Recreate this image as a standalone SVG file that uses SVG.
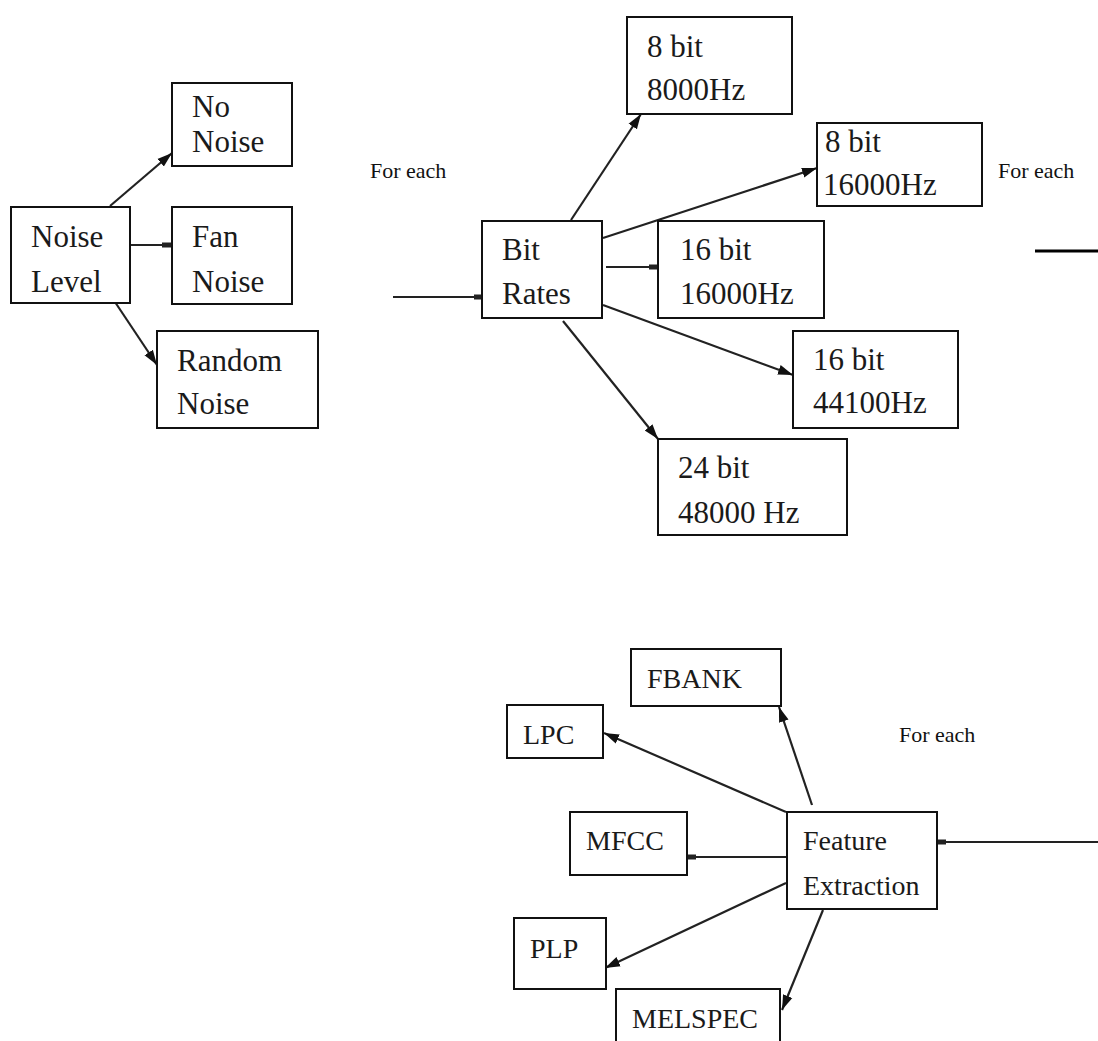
<svg xmlns="http://www.w3.org/2000/svg" width="1098" height="1041" viewBox="0 0 1098 1041">
<style>
.box{fill:#fff;stroke:#111;stroke-width:2}
text{font-family:'Liberation Serif','Times New Roman',Times,serif}
.t{font-size:31px;fill:#1a1a1a}
.tb{font-size:28px;fill:#1a1a1a}
.fe{font-size:22px;fill:#111}
.c{stroke:#222;stroke-width:2.2;fill:none}
.arr{marker-end:url(#ah)}
.sq{marker-end:url(#sq)}
</style>
<defs>
<marker id="ah" markerUnits="userSpaceOnUse" markerWidth="16" markerHeight="12" refX="15" refY="6" orient="auto"><path d="M0,1 L15,6 L0,11 z" fill="#111"/></marker>
<marker id="sq" markerUnits="userSpaceOnUse" markerWidth="16" markerHeight="6" refX="14" refY="3" orient="auto"><rect x="4" y="0.5" width="9" height="5" fill="#222"/></marker>
</defs>
<rect width="1098" height="1041" fill="#fff"/>

<g id="connectors">
<line class="c arr" x1="110" y1="206" x2="172" y2="153"/>
<line class="c sq" x1="131" y1="245" x2="172" y2="245"/>
<line class="c arr" x1="107" y1="290" x2="157" y2="365"/>
<line class="c sq" x1="393" y1="297" x2="484" y2="297"/>
<line class="c arr" x1="571" y1="220" x2="641" y2="114"/>
<line class="c arr" x1="603" y1="238" x2="817" y2="168"/>
<line class="c sq" x1="606" y1="267" x2="659" y2="267"/>
<line class="c arr" x1="603" y1="305" x2="793" y2="375"/>
<line class="c arr" x1="563" y1="321" x2="658" y2="439"/>
<line x1="1035" y1="251" x2="1098" y2="251" stroke="#000" stroke-width="3"/>
<line class="c arr" x1="812" y1="805" x2="779" y2="707"/>
<line class="c arr" x1="786" y1="812" x2="604" y2="733"/>
<line class="c sq" x1="786" y1="857" x2="686" y2="857"/>
<line class="c arr" x1="786" y1="883" x2="605" y2="968"/>
<line class="c arr" x1="823" y1="910" x2="782" y2="1010"/>
<line class="c sq" x1="1098" y1="842" x2="936" y2="842"/>
</g>

<g id="noise-level"><rect class="box" x="11" y="207" width="119" height="96"/><text class="t" x="31" y="247">Noise</text><text class="t" x="31" y="292">Level</text></g>
<g id="no-noise"><rect class="box" x="172" y="83" width="120" height="83"/><text class="t" x="192" y="117">No</text><text class="t" x="192" y="152">Noise</text></g>
<g id="fan-noise"><rect class="box" x="172" y="207" width="120" height="97"/><text class="t" x="192" y="247">Fan</text><text class="t" x="192" y="292">Noise</text></g>
<g id="random-noise"><rect class="box" x="157" y="331" width="161" height="97"/><text class="t" x="177" y="371">Random</text><text class="t" x="177" y="414">Noise</text></g>

<text class="fe" x="370" y="178">For each</text>

<g id="bit-rates"><rect class="box" x="482" y="221" width="120" height="97"/><text class="t" x="502" y="260">Bit</text><text class="t" x="502" y="304">Rates</text></g>
<g id="b8-8000"><rect class="box" x="627" y="17" width="165" height="97"/><text class="t" x="647" y="57">8 bit</text><text class="t" x="647" y="100">8000Hz</text></g>
<g id="b8-16000"><rect class="box" x="817" y="123" width="165" height="83"/><text class="t" x="825" y="152">8 bit</text><text class="t" x="823" y="195">16000Hz</text></g>
<g id="b16-16000"><rect class="box" x="658" y="221" width="166" height="97"/><text class="t" x="680" y="260">16 bit</text><text class="t" x="680" y="304">16000Hz</text></g>
<g id="b16-44100"><rect class="box" x="793" y="331" width="165" height="97"/><text class="t" x="813" y="370">16 bit</text><text class="t" x="813" y="413">44100Hz</text></g>
<g id="b24-48000"><rect class="box" x="658" y="439" width="189" height="96"/><text class="t" x="678" y="478">24 bit</text><text class="t" x="678" y="523">48000 Hz</text></g>

<text class="fe" x="998" y="178">For each</text>

<g id="fbank"><rect class="box" x="631" y="649" width="150" height="57"/><text class="tb" x="647" y="688">FBANK</text></g>
<g id="lpc"><rect class="box" x="507" y="705" width="96" height="53"/><text class="tb" x="523" y="744">LPC</text></g>
<g id="mfcc"><rect class="box" x="570" y="812" width="117" height="63"/><text class="tb" x="586" y="850">MFCC</text></g>
<g id="plp"><rect class="box" x="514" y="918" width="92" height="71"/><text class="tb" x="530" y="958">PLP</text></g>
<g id="melspec"><rect class="box" x="616" y="989" width="164" height="60"/><text class="tb" x="632" y="1028">MELSPEC</text></g>
<g id="feature-extraction"><rect class="box" x="787" y="812" width="150" height="97"/><text class="tb" x="803" y="850">Feature</text><text class="tb" x="803" y="895">Extraction</text></g>

<text class="fe" x="899" y="742">For each</text>
</svg>
